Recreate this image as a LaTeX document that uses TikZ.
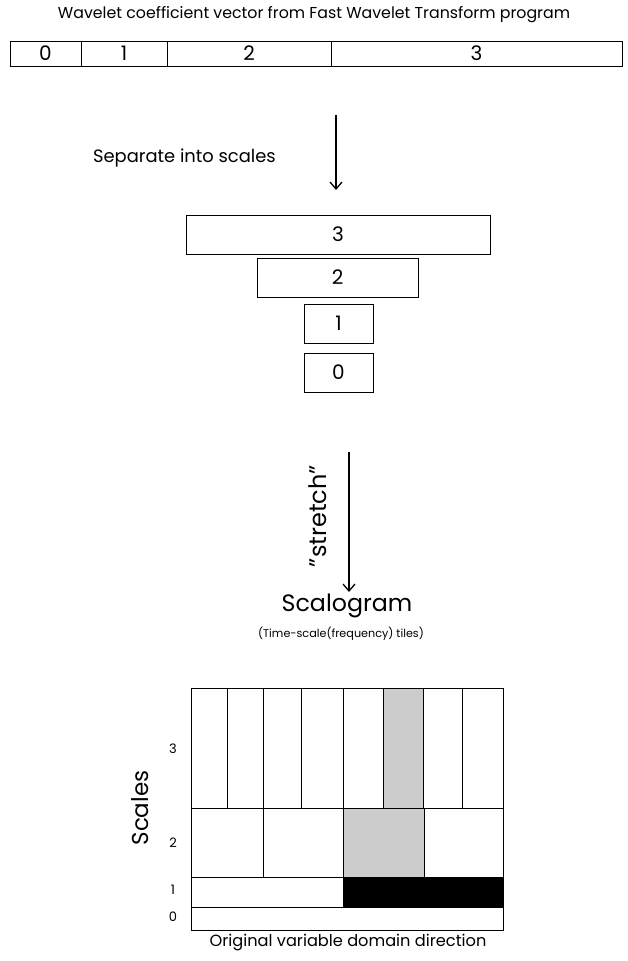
\documentclass[tikz,border=0pt]{standalone}
\usepackage{fontspec}
\setmainfont{Poppins}
\usetikzlibrary{arrows.meta}
\tikzset{
  cell/.style={draw, line width=0.9pt, inner sep=0pt, outer sep=0pt, font=\fontsize{20}{20}\selectfont},
  arr/.style={line width=1.3pt, -{Straight Barb[length=7pt, width=12pt, line width=1.3pt]}},
  tile/.style={draw, line width=0.9pt},
  lab/.style={inner sep=0pt, font=\fontsize{13}{13}\selectfont}
}
\begin{document}
\begin{tikzpicture}[x=1pt,y=-1pt]
\useasboundingbox[fill=white] (0,0) rectangle (628,961);
% title
\node[inner sep=0pt, font=\fontsize{15.8}{15.8}\selectfont] (title) at (314,15) {Wavelet coefficient vector from Fast Wavelet Transform program};
% top bar
\node[cell, minimum width=71pt, minimum height=25pt] (t0) at (45.5,53.5) {0};
\node[cell, minimum width=86pt, minimum height=25pt] (t1) at (124,53.5) {1};
\node[cell, minimum width=164pt, minimum height=25pt] (t2) at (249,53.5) {2};
\node[cell, minimum width=291pt, minimum height=25pt] (t3) at (476.5,53.5) {3};
% arrow 1
\coordinate (a1s) at (336,115);
\coordinate (a1e) at (336,190);
\draw[arr] (a1s) -- (a1e);
\node[anchor=east, inner sep=0pt, font=\fontsize{17.9}{17.9}\selectfont] (sep) at (276,158) {Separate into scales};
% scale boxes
\node[cell, minimum width=304pt, minimum height=39pt] (s3) at (338,234.5) {3};
\node[cell, minimum width=161pt, minimum height=39pt] (s2) at (337.5,277.5) {2};
\node[cell, minimum width=69pt, minimum height=39pt] (s1) at (338.5,323.5) {1};
\node[cell, minimum width=69pt, minimum height=39pt] (s0) at (338.5,372.5) {0};
% arrow 2
\coordinate (a2s) at (349,452);
\coordinate (a2e) at (349,592);
\draw[arr] (a2s) -- (a2e);
\node[rotate=90, inner sep=0pt, font=\fontsize{24}{24}\selectfont] (str) at (318,516) {"stretch"};
% scalogram title
\node[inner sep=0pt, font=\fontsize{23.7}{23.7}\selectfont] (scal) at (347,606) {Scalogram};
\node[inner sep=0pt, font=\fontsize{11.2}{11.2}\selectfont] (tiles) at (341,634) {(Time-scale(frequency) tiles)};
% grid
\fill[gray!40] (383,688) rectangle (423,808);
\fill[gray!40] (343,808) rectangle (424,877);
\fill[black] (343,877) rectangle (503,907);
\foreach \a/\b in {191/227,227/263,263/301,301/343,343/383,383/423,423/462,462/503}
  \draw[tile] (\a,688) rectangle (\b,808);
\foreach \a/\b in {191/263,263/343,343/424,424/503}
  \draw[tile] (\a,808) rectangle (\b,877);
\foreach \a/\b in {191/343,343/503}
  \draw[tile] (\a,877) rectangle (\b,907);
\draw[tile] (191,907) rectangle (503,930);
% labels
\node[lab] (l3) at (173,749) {3};
\node[lab] (l2) at (173,843) {2};
\node[lab] (l1) at (173,890) {1};
\node[lab] (l0) at (173,917) {0};
\node[rotate=90, inner sep=0pt, font=\fontsize{23}{23}\selectfont] (scales) at (140,808) {Scales};
\node[inner sep=0pt, font=\fontsize{16.2}{16.2}\selectfont] (orig) at (348,943) {Original variable domain direction};
\end{tikzpicture}
\end{document}
